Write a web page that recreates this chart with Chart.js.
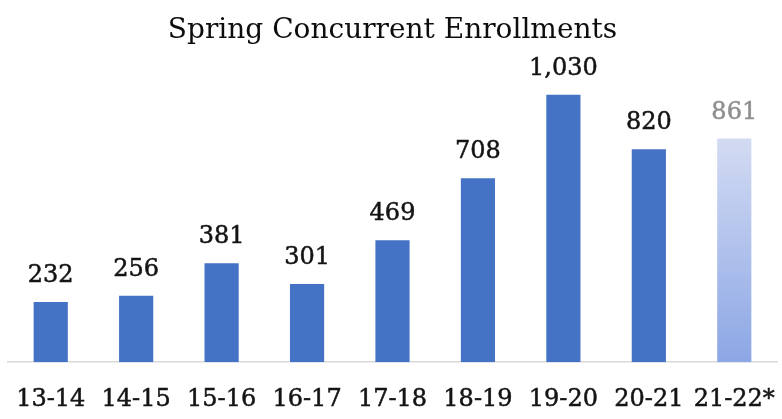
<!DOCTYPE html>
<html>
<head>
<meta charset="utf-8">
<script src="https://cdn.jsdelivr.net/npm/chart.js@4.4.1/dist/chart.umd.min.js"></script>
<style>
html,body{margin:0;padding:0;background:#fff;}
#wrap{width:782px;height:419px;position:relative;}
</style>
</head>
<body>
<div id="wrap"><canvas id="c" width="782" height="419"></canvas></div>
<script>
const categories = ["13-14","14-15","15-16","16-17","17-18","18-19","19-20","20-21","21-22*"];
const enrollments = [232,256,381,301,469,708,1030,820,861];
const labelTexts = ["232","256","381","301","469","708","1,030","820","861"];
const titleText = "Spring Concurrent Enrollments";

const FONT = "'DejaVu Serif', serif";
const BAR = "#4472C4";

function barColor(ctx){
  const chart = ctx.chart;
  if (ctx.dataIndex !== categories.length - 1) return BAR;
  const area = chart.chartArea;
  if (!area) return BAR;
  const el = chart.getDatasetMeta(0).data[ctx.dataIndex];
  const top = el && isFinite(el.y) ? el.y : area.top;
  const g = chart.ctx.createLinearGradient(0, top, 0, area.bottom);
  g.addColorStop(0, "#e1e5f5");
  g.addColorStop(1, "#8ca7e5");
  return g;
}

const valueLabels = {
  id: "valueLabels",
  afterDatasetsDraw(chart){
    const ctx = chart.ctx;
    const meta = chart.getDatasetMeta(0);
    ctx.save();
    ctx.font = "24px " + FONT;
    ctx.textAlign = "center";
    ctx.textBaseline = "alphabetic";
    ctx.lineWidth = 0.5;
    meta.data.forEach((el, i) => {
      const col = i === categories.length - 1 ? "#8f8f8f" : "#141414";
      ctx.fillStyle = col;
      ctx.strokeStyle = col;
      ctx.fillText(labelTexts[i], el.x, el.y - 20);
      ctx.strokeText(labelTexts[i], el.x, el.y - 20);
    });
    ctx.restore();
  }
};

new Chart(document.getElementById("c"), {
  type: "bar",
  data: {
    labels: categories,
    datasets: [{
      data: enrollments,
      backgroundColor: barColor,
      borderWidth: 0,
      barPercentage: 0.4,
      categoryPercentage: 1.0
    }]
  },
  options: {
    responsive: false,
    animation: false,
    devicePixelRatio: 1,
    layout: { padding: { left: 8, right: 5, top: 0, bottom: 5 } },
    plugins: {
      legend: { display: false },
      tooltip: { enabled: false },
      title: {
        display: true,
        text: titleText,
        color: "#0d0d0d",
        font: { family: FONT, size: 28, weight: "normal" },
        padding: { top: 14, bottom: 47 }
      }
    },
    scales: {
      x: {
        grid: { display: true, drawOnChartArea: false, drawTicks: true, tickLength: 23, color: "rgba(0,0,0,0)" },
        border: { display: true, color: "#d9d9d9", width: 1.5 },
        ticks: { color: "#141414", textStrokeColor: "#141414", textStrokeWidth: 0.5, font: { family: FONT, size: 24 }, padding: 0, maxRotation: 0, autoSkip: false }
      },
      y: {
        display: false,
        min: 0,
        max: 1030,
        beginAtZero: true
      }
    }
  },
  plugins: [valueLabels]
});
</script>
</body>
</html>
